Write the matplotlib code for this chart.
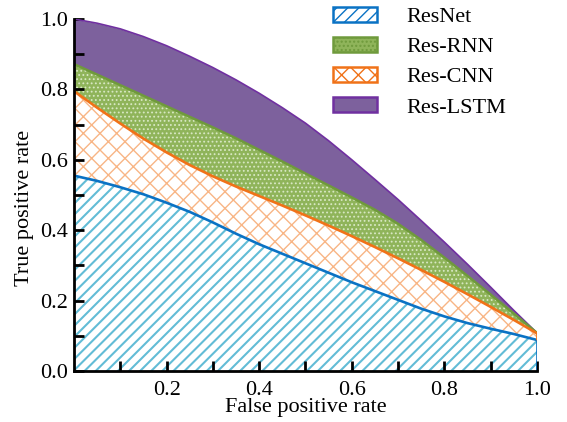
import numpy as np
import matplotlib
matplotlib.use("Agg")
import matplotlib.pyplot as plt
from matplotlib.patches import Patch

# ---------------------------------------------------------------------------
# Data (step 0.05 in FPR)
# ---------------------------------------------------------------------------
fpr = [0.00, 0.05, 0.10, 0.15, 0.20, 0.25, 0.30, 0.35, 0.40, 0.45, 0.50,
       0.55, 0.60, 0.65, 0.70, 0.75, 0.80, 0.85, 0.90, 0.95, 1.00]

resnet   = [0.555, 0.540, 0.522, 0.502, 0.478, 0.452, 0.422, 0.390, 0.360, 0.333, 0.306,
            0.279, 0.252, 0.227, 0.202, 0.177, 0.155, 0.136, 0.120, 0.105, 0.088]
res_cnn  = [0.795, 0.748, 0.703, 0.660, 0.621, 0.585, 0.553, 0.524, 0.497, 0.470, 0.442,
            0.413, 0.383, 0.352, 0.320, 0.287, 0.253, 0.218, 0.182, 0.145, 0.107]
res_rnn  = [0.872, 0.842, 0.812, 0.782, 0.752, 0.722, 0.692, 0.661, 0.628, 0.595, 0.561,
            0.527, 0.493, 0.458, 0.418, 0.372, 0.322, 0.270, 0.217, 0.163, 0.108]
res_lstm = [1.000, 0.988, 0.972, 0.950, 0.924, 0.894, 0.862, 0.827, 0.789, 0.748, 0.704,
            0.654, 0.600, 0.544, 0.487, 0.427, 0.366, 0.303, 0.238, 0.172, 0.108]

labels = ["ResNet", "Res-RNN", "Res-CNN", "Res-LSTM"]

STYLE = {
    "font.family": ["Liberation Serif", "DejaVu Serif"],
    "font.size": 16,
    "axes.linewidth": 2.0,
}

BLUE, BLUE_H = "#0a72c4", "#62bcd6"
ORANGE, ORANGE_H = "#f07218", "#f8b585"
GREEN, GREEN_F, GREEN_H = "#6f9a3c", "#8fb45a", "#d8e8c4"
PURPLE, PURPLE_F = "#7030a0", "#7d619d"

with plt.rc_context(STYLE):
    fig = plt.figure(figsize=(5.67, 4.22), dpi=100)
    ax = fig.add_axes([0.1305, 0.1209, 0.8166, 0.8341])

    zero = np.zeros(len(fpr))

    # stacked bands, each with its own hatch
    plt.rcParams["hatch.linewidth"] = 1.5
    ax.fill_between(fpr, zero, resnet, facecolor="white",
                    edgecolor=BLUE_H, hatch="///", linewidth=0)
    plt.rcParams["hatch.linewidth"] = 1.0
    ax.fill_between(fpr, resnet, res_cnn, facecolor="white",
                    edgecolor=ORANGE_H, hatch="xx", linewidth=0)
    plt.rcParams["hatch.linewidth"] = 0.8
    ax.fill_between(fpr, res_cnn, res_rnn, facecolor=GREEN_F,
                    edgecolor=GREEN_H, hatch="....", linewidth=0)
    ax.fill_between(fpr, res_rnn, res_lstm, facecolor=PURPLE_F,
                    edgecolor=PURPLE_F, linewidth=0)

    ax.plot(fpr, res_lstm, color=PURPLE, linewidth=1.2)
    ax.plot(fpr, res_rnn, color=GREEN, linewidth=1.8)
    ax.plot(fpr, res_cnn, color=ORANGE, linewidth=1.9)
    ax.plot(fpr, resnet, color=BLUE, linewidth=1.9)
    ax.vlines(fpr[-1], resnet[-1], res_cnn[-1], color=ORANGE, linewidth=1.9)
    ax.vlines(fpr[-1], 0, resnet[-1], color=BLUE, linewidth=1.9)

    # legend proxies with coloured borders
    plt.rcParams["hatch.linewidth"] = 1.5
    p1 = Patch(facecolor="white", edgecolor=BLUE, hatch="///", linewidth=1.8)
    plt.rcParams["hatch.linewidth"] = 0.8
    p2 = Patch(facecolor=GREEN_F, edgecolor=GREEN, hatch="....", linewidth=1.8)
    plt.rcParams["hatch.linewidth"] = 1.0
    p3 = Patch(facecolor="white", edgecolor=ORANGE, hatch="xx", linewidth=1.8)
    p4 = Patch(facecolor=PURPLE_F, edgecolor=PURPLE, linewidth=1.8)
    ax.legend([p1, p2, p3, p4], labels, loc="upper left",
              bbox_to_anchor=(326 / 567, 1.0), bbox_transform=fig.transFigure,
              frameon=False, handlelength=2.0, handleheight=0.65,
              handletextpad=1.3, labelspacing=0.45, borderpad=0.3,
              borderaxespad=0, fontsize=16)

    ax.set_xlim(0, 1)
    ax.set_ylim(0, 1)
    ax.set_xticks([0.2, 0.4, 0.6, 0.8, 1.0])
    ax.set_xticklabels(["0.2", "0.4", "0.6", "0.8", "1.0"])
    ax.set_xticks(np.arange(0.1, 1.0, 0.2), minor=True)
    ax.set_yticks([0.0, 0.2, 0.4, 0.6, 0.8, 1.0])
    ax.set_yticklabels(["0.0", "0.2", "0.4", "0.6", "0.8", "1.0"])
    ax.set_yticks(np.arange(0.1, 1.0, 0.2), minor=True)
    ax.tick_params(which="both", direction="in", length=7, width=2.0, color="black")
    ax.tick_params(axis="x", which="major", pad=7)
    ax.tick_params(axis="y", which="major", pad=4)

    ax.spines["top"].set_visible(False)
    ax.spines["right"].set_visible(False)

    ax.set_xlabel("False positive rate", labelpad=-1)
    ax.set_ylabel("True positive rate")
    ax.yaxis.set_label_coords(-0.087, 0.463)

    fig.savefig("out.png", dpi=100)
